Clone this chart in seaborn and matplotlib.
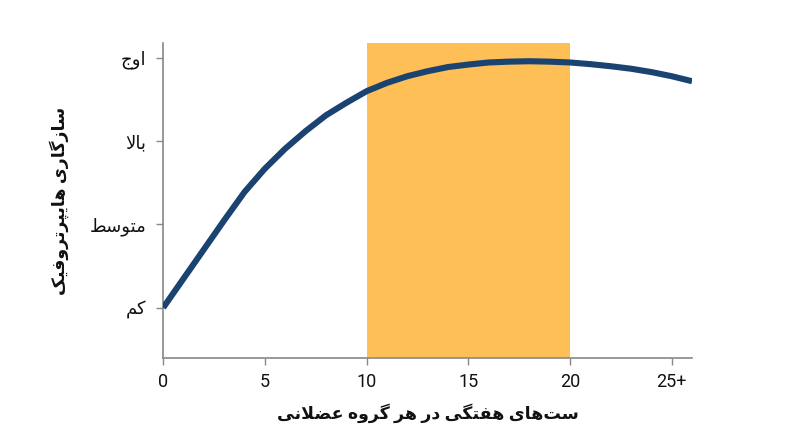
import numpy as np
import pandas as pd
import matplotlib
matplotlib.use("Agg")
import matplotlib.pyplot as plt
import seaborn as sns

# Data
weekly_sets = list(range(0, 27))
adaptation = [1.00, 1.35, 1.70, 2.05, 2.39, 2.67, 2.91, 3.12, 3.31, 3.46,
              3.60, 3.70, 3.78, 3.84, 3.89, 3.92, 3.945, 3.955, 3.96, 3.955,
              3.945, 3.925, 3.90, 3.87, 3.83, 3.78, 3.72]
optimal_range = [10, 20]
x_ticks = [0, 5, 10, 15, 20, 25]
x_tick_labels = ["0", "5", "10", "15", "20", "25+"]
y_ticks = [1, 2, 3, 4]
y_tick_labels = ["کم", "متوسط", "بالا", "اوج"]
x_title = "ست‌های هفتگی در هر گروه عضلانی"
y_title = "سازگاری هایپرتروفیک"

# matplotlib has no Arabic shaping, so pick presentation forms by hand
# (isolated, final, initial, medial)
FORMS = {
    "ا": ("\uFE8D", "\uFE8E", None, None),
    "ب": ("\uFE8F", "\uFE90", "\uFE91", "\uFE92"),
    "پ": ("\uFB56", "\uFB57", "\uFB58", "\uFB59"),
    "ت": ("\uFE95", "\uFE96", "\uFE97", "\uFE98"),
    "ج": ("\uFE9D", "\uFE9E", "\uFE9F", "\uFEA0"),
    "د": ("\uFEA9", "\uFEAA", None, None),
    "ر": ("\uFEAD", "\uFEAE", None, None),
    "ز": ("\uFEAF", "\uFEB0", None, None),
    "س": ("\uFEB1", "\uFEB2", "\uFEB3", "\uFEB4"),
    "ض": ("\uFEBD", "\uFEBE", "\uFEBF", "\uFEC0"),
    "ط": ("\uFEC1", "\uFEC2", "\uFEC3", "\uFEC4"),
    "ع": ("\uFEC9", "\uFECA", "\uFECB", "\uFECC"),
    "ف": ("\uFED1", "\uFED2", "\uFED3", "\uFED4"),
    "ک": ("\uFB8E", "\uFB8F", "\uFB90", "\uFB91"),
    "گ": ("\uFB92", "\uFB93", "\uFB94", "\uFB95"),
    "ل": ("\uFEDD", "\uFEDE", "\uFEDF", "\uFEE0"),
    "م": ("\uFEE1", "\uFEE2", "\uFEE3", "\uFEE4"),
    "ن": ("\uFEE5", "\uFEE6", "\uFEE7", "\uFEE8"),
    "ه": ("\uFEE9", "\uFEEA", "\uFEEB", "\uFEEC"),
    "و": ("\uFEED", "\uFEEE", None, None),
    "ی": ("\uFBFC", "\uFBFD", "\uFBFE", "\uFBFF"),
}


def dual(c):
    return c in FORMS and FORMS[c][2] is not None


def shape(text):
    out = []
    i = 0
    while i < len(text):
        c = text[i]
        if c not in FORMS:
            if c != "\u200c":
                out.append(c)
            i += 1
            continue
        link_prev = i > 0 and dual(text[i - 1])
        if c == "ل" and i + 1 < len(text) and text[i + 1] == "ا":
            out.append("\uFEFC" if link_prev else "\uFEFB")
            i += 2
            continue
        nxt = text[i + 1] if i + 1 < len(text) else ""
        link_next = dual(c) and nxt in FORMS
        iso, fin, ini, med = FORMS[c]
        if link_prev and link_next:
            out.append(med)
        elif link_prev:
            out.append(fin)
        elif link_next:
            out.append(ini)
        else:
            out.append(iso)
        i += 1
    return "".join(reversed(out))


df = pd.DataFrame({"sets": weekly_sets, "adaptation": adaptation})

sns.set_style("ticks")
plt.rcParams["font.family"] = ["Roboto", "DejaVu Sans"]

fig = plt.figure(figsize=(8, 4.47), dpi=100)
ax = fig.add_axes([0.204, 0.199, 0.661, 0.705])

ax.axvspan(optimal_range[0], optimal_range[1], color="#FDBF56", lw=0, zorder=0)
sns.lineplot(data=df, x="sets", y="adaptation", ax=ax, color="#1B4372",
             linewidth=4.4, solid_capstyle="butt", solid_joinstyle="round",
             zorder=3)

ax.set_xlim(0, 26)
ax.set_ylim(0.395, 4.18)
ax.set_xticks(x_ticks)
ax.set_xticklabels(x_tick_labels, fontsize=13, color="#111111")
ax.set_yticks(y_ticks)
ax.set_yticklabels([shape(t) for t in y_tick_labels], fontsize=13, color="#111111")
ax.tick_params(axis="both", length=5, width=1, color="#888888")
ax.tick_params(axis="x", pad=6)
ax.tick_params(axis="y", pad=7)

ax.set_xlabel(shape(x_title), fontsize=12.5, fontweight="bold", color="#111111")
ax.set_ylabel(shape(y_title), fontsize=12.5, fontweight="bold", color="#111111")
ax.xaxis.label.set_va("center")
ax.yaxis.label.set_va("center")
ax.xaxis.set_label_coords(0.5, -0.175)
ax.yaxis.set_label_coords(-0.196, 0.5)

sns.despine(ax=ax)
for side in ["left", "bottom"]:
    ax.spines[side].set_color("#888888")
    ax.spines[side].set_linewidth(1.2)

fig.savefig("out.png", dpi=100)
